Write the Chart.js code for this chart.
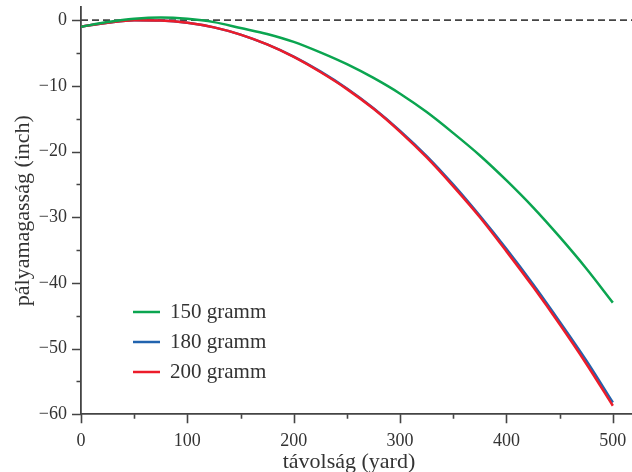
<!DOCTYPE html>
<html><head><meta charset="utf-8">
<script src="https://cdn.jsdelivr.net/npm/chart.js@4/dist/chart.umd.min.js"></script>
<style>html,body{margin:0;padding:0;background:#fff}#wrap{width:632px;height:472px}</style>
</head><body><div id="wrap"><canvas id="c" width="632" height="472"></canvas></div>
<script>
// distance (yard)
const distances = [0,25,50,75,100,125,150,175,200,225,250,275,300,325,350,375,400,425,450,475,500];
// trajectory height (inch)
const drop150 = [-1.0,-0.3,0.2,0.4,0.2,-0.3,-1.2,-2.1,-3.3,-4.9,-6.7,-8.8,-11.2,-14.0,-17.2,-20.6,-24.4,-28.5,-33.0,-37.8,-43.0];
const drop180 = [-1.0,-0.4,0.0,-0.05,-0.4,-1.1,-2.2,-3.7,-5.55,-7.8,-10.4,-13.4,-16.85,-20.7,-25.05,-29.8,-34.85,-40.2,-45.9,-51.8,-58.2];
const drop200 = [-1.0,-0.4,0.0,-0.05,-0.4,-1.1,-2.2,-3.7,-5.6,-7.9,-10.5,-13.5,-17.0,-20.9,-25.3,-30.0,-35.2,-40.6,-46.3,-52.3,-58.7];
const zeroLine = [0,0];
const seriesLabels = ['150 gramm','180 gramm','200 gramm'];
const seriesColors = ['#0ba550','#2163ae','#ec1c2a'];
const xMajorTicks = [0,100,200,300,400,500];
const xMinorTicks = [50,150,250,350,450];
const yMajorTicks = [0,-10,-20,-30,-40,-50,-60];
const yMinorTicks = [-5,-15,-25,-35,-45,-55];
const xTitle = 'távolság (yard)';
const yTitle = 'pályamagasság (inch)';

const AXIS = '#444';
const SERIF = '"Liberation Serif", "DejaVu Serif", serif';

const pts = ys => distances.map((d,i)=>({x:d,y:ys[i]}));

const decor = {
  id:'decor',
  afterDraw(chart){
    const ctx = chart.ctx, xs = chart.scales.x, ys = chart.scales.y, a = chart.chartArea;
    ctx.save();
    ctx.strokeStyle = AXIS; ctx.lineWidth = 1.6;
    ctx.beginPath();
    xMajorTicks.forEach(v=>{const p=Math.round(xs.getPixelForValue(v))+0.5; ctx.moveTo(p,a.bottom); ctx.lineTo(p,a.bottom+9);});
    xMinorTicks.forEach(v=>{const p=Math.round(xs.getPixelForValue(v))+0.5; ctx.moveTo(p,a.bottom); ctx.lineTo(p,a.bottom+4.5);});
    yMajorTicks.forEach(v=>{const p=Math.round(ys.getPixelForValue(v))+0.5; ctx.moveTo(a.left-9,p); ctx.lineTo(a.left,p);});
    yMinorTicks.forEach(v=>{const p=Math.round(ys.getPixelForValue(v))+0.5; ctx.moveTo(a.left-4.5,p); ctx.lineTo(a.left,p);});
    ctx.stroke();
    // x title
    ctx.fillStyle = '#333';
    ctx.font = '22px ' + SERIF;
    ctx.textAlign = 'center'; ctx.textBaseline = 'middle';
    ctx.fillText(xTitle, (xs.getPixelForValue(0)+xs.getPixelForValue(500))/2 + 2, 462);
    // legend
    ctx.font = '21px ' + SERIF;
    ctx.textAlign = 'left';
    seriesLabels.forEach((lab,i)=>{
      const y = 312 + i*30;
      ctx.strokeStyle = seriesColors[i]; ctx.lineWidth = 2.5;
      ctx.beginPath(); ctx.moveTo(133,y); ctx.lineTo(160,y); ctx.stroke();
      ctx.fillStyle = '#333';
      ctx.fillText(lab, 170, y);
    });
    ctx.restore();
  }
};

new Chart(document.getElementById('c'), {
  type:'line',
  data:{datasets:[
    {label:seriesLabels[0], data:pts(drop150), borderColor:seriesColors[0], borderWidth:2.5, pointRadius:0, cubicInterpolationMode:'monotone', fill:false},
    {label:seriesLabels[2], data:pts(drop200), borderColor:seriesColors[2], borderWidth:2.5, pointRadius:0, cubicInterpolationMode:'monotone', fill:false},
    {label:seriesLabels[1], data:pts(drop180), borderColor:seriesColors[1], borderWidth:2.5, pointRadius:0, cubicInterpolationMode:'monotone', fill:false},
    {label:'zero', data:[{x:0,y:zeroLine[0]},{x:520,y:zeroLine[1]}], borderColor:AXIS, borderWidth:1.6, borderDash:[7,4], pointRadius:0, fill:false}
  ]},
  options:{
    responsive:false, animation:false, devicePixelRatio:1,
    layout:{padding:{left:0,right:0,top:7,bottom:0}},
    plugins:{legend:{display:false}, tooltip:{enabled:false}},
    scales:{
      x:{type:'linear', min:0, max:518,
        afterBuildTicks:s=>{s.ticks = xMajorTicks.map(v=>({value:v}));},
        afterFit:s=>{s.height = 57.7; s.paddingLeft = 0; s.paddingRight = 0;},
        grid:{display:false, drawTicks:false, tickLength:0},
        border:{display:true, color:AXIS, width:1.8},
        ticks:{padding:16, color:'#333', font:{family:SERIF, size:18}, maxRotation:0, autoSkip:false, callback:v=>String(v)}
      },
      y:{type:'linear', min:-60, max:2,
        afterBuildTicks:s=>{s.ticks = yMajorTicks.map(v=>({value:v}));},
        afterFit:s=>{s.width = 81; s.paddingTop = 0; s.paddingBottom = 0;},
        grid:{display:false, drawTicks:false, tickLength:0},
        border:{display:true, color:AXIS, width:1.8},
        ticks:{padding:14, color:'#333', font:{family:SERIF, size:18}, autoSkip:false, callback:v=> v<0 ? '\u2212'+Math.abs(v) : String(v)},
        title:{display:true, text:yTitle, color:'#333', font:{family:SERIF, size:22, lineHeight:1}, padding:{top:12,bottom:0}}
      }
    }
  },
  plugins:[decor]
});
</script></body></html>
